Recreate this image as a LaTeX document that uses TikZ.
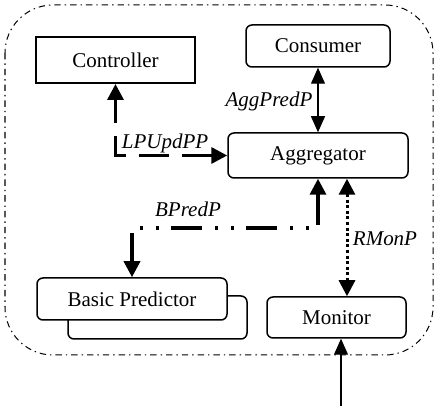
\documentclass[tikz,border=0pt]{standalone}
\usepackage{fontspec}
\setmainfont{Liberation Serif}
\newfontfamily\tnr{Liberation Serif}
\usetikzlibrary{arrows.meta}
\begin{document}
\begin{tikzpicture}[x=0.5pt,y=-0.5pt,
  box/.style={draw, line width=0.75pt, rounded corners=3pt, fill=white, inner sep=0pt,
    font=\tnr\fontsize{10.5}{12}\selectfont},
  lab/.style={font=\tnr\fontsize{10.5}{12}\selectfont\itshape, inner sep=0pt},
  thinarr/.style={line width=0.6pt, >={Triangle[length=8pt,width=7pt]}},
  thickarr/.style={line width=1.7pt, line cap=butt, >={Triangle[length=8pt,width=8pt]}},
  outline/.style={line width=0.5pt, dash pattern=on 3.2pt off 2pt on 0.7pt off 2pt, rounded corners=24pt},
]
\useasboundingbox (0,0) rectangle (435,406);
\draw[outline] (5,5) rectangle (433,355);

\node[box, sharp corners, line width=1pt, minimum width=79.5pt, minimum height=23pt] (ctrl) at (115.5,60) {Controller};
\node[box, minimum width=72pt, minimum height=21pt] (cons) at (318,46) {Consumer};
\node[box, minimum width=90pt, minimum height=22.5pt] (agg) at (318,155.5) {Aggregator};
\node[box, minimum width=89.5pt, minimum height=21.5pt] (bpback) at (157.5,317.5) {};
\node[box, minimum width=95pt, minimum height=21pt] (bp) at (132,299) {Basic Predictor};
\node[box, minimum width=69.5pt, minimum height=20.5pt] (mon) at (336.5,317.5) {Monitor};

\coordinate (b1) at (132,228);
\coordinate (r1) at (347,0);
\coordinate (m0) at (341,406);

% LPUpdPP
\draw[thickarr, dash pattern=on 15pt off 6.5pt, <->] (agg.west) -| (ctrl.south);
% AggPredP
\draw[thinarr, <->] (cons.south) -- (agg.north);
% BPredP
\draw[thickarr, dash pattern=on 15.5pt off 6pt on 1.5pt off 6.5pt on 1.5pt off 6.5pt, <->]
  (agg.south) |- (b1) -- (bp.north);
% RMonP
\draw[thickarr, line width=1.5pt, dash pattern=on 1.5pt off 1.3pt, <->] (agg.south -| r1) -- (mon.north -| r1);
% Monitor input
\draw[thinarr, ->] (m0) -- (m0 |- mon.south);

\node[lab] (l1) at (165,143) {LPUpdPP};
\node[lab] (l2) at (269,101) {AggPredP};
\node[lab] (l3) at (188,209) {BPredP};
\node[lab] (l4) at (385,238.5) {RMonP};
\end{tikzpicture}
\end{document}
